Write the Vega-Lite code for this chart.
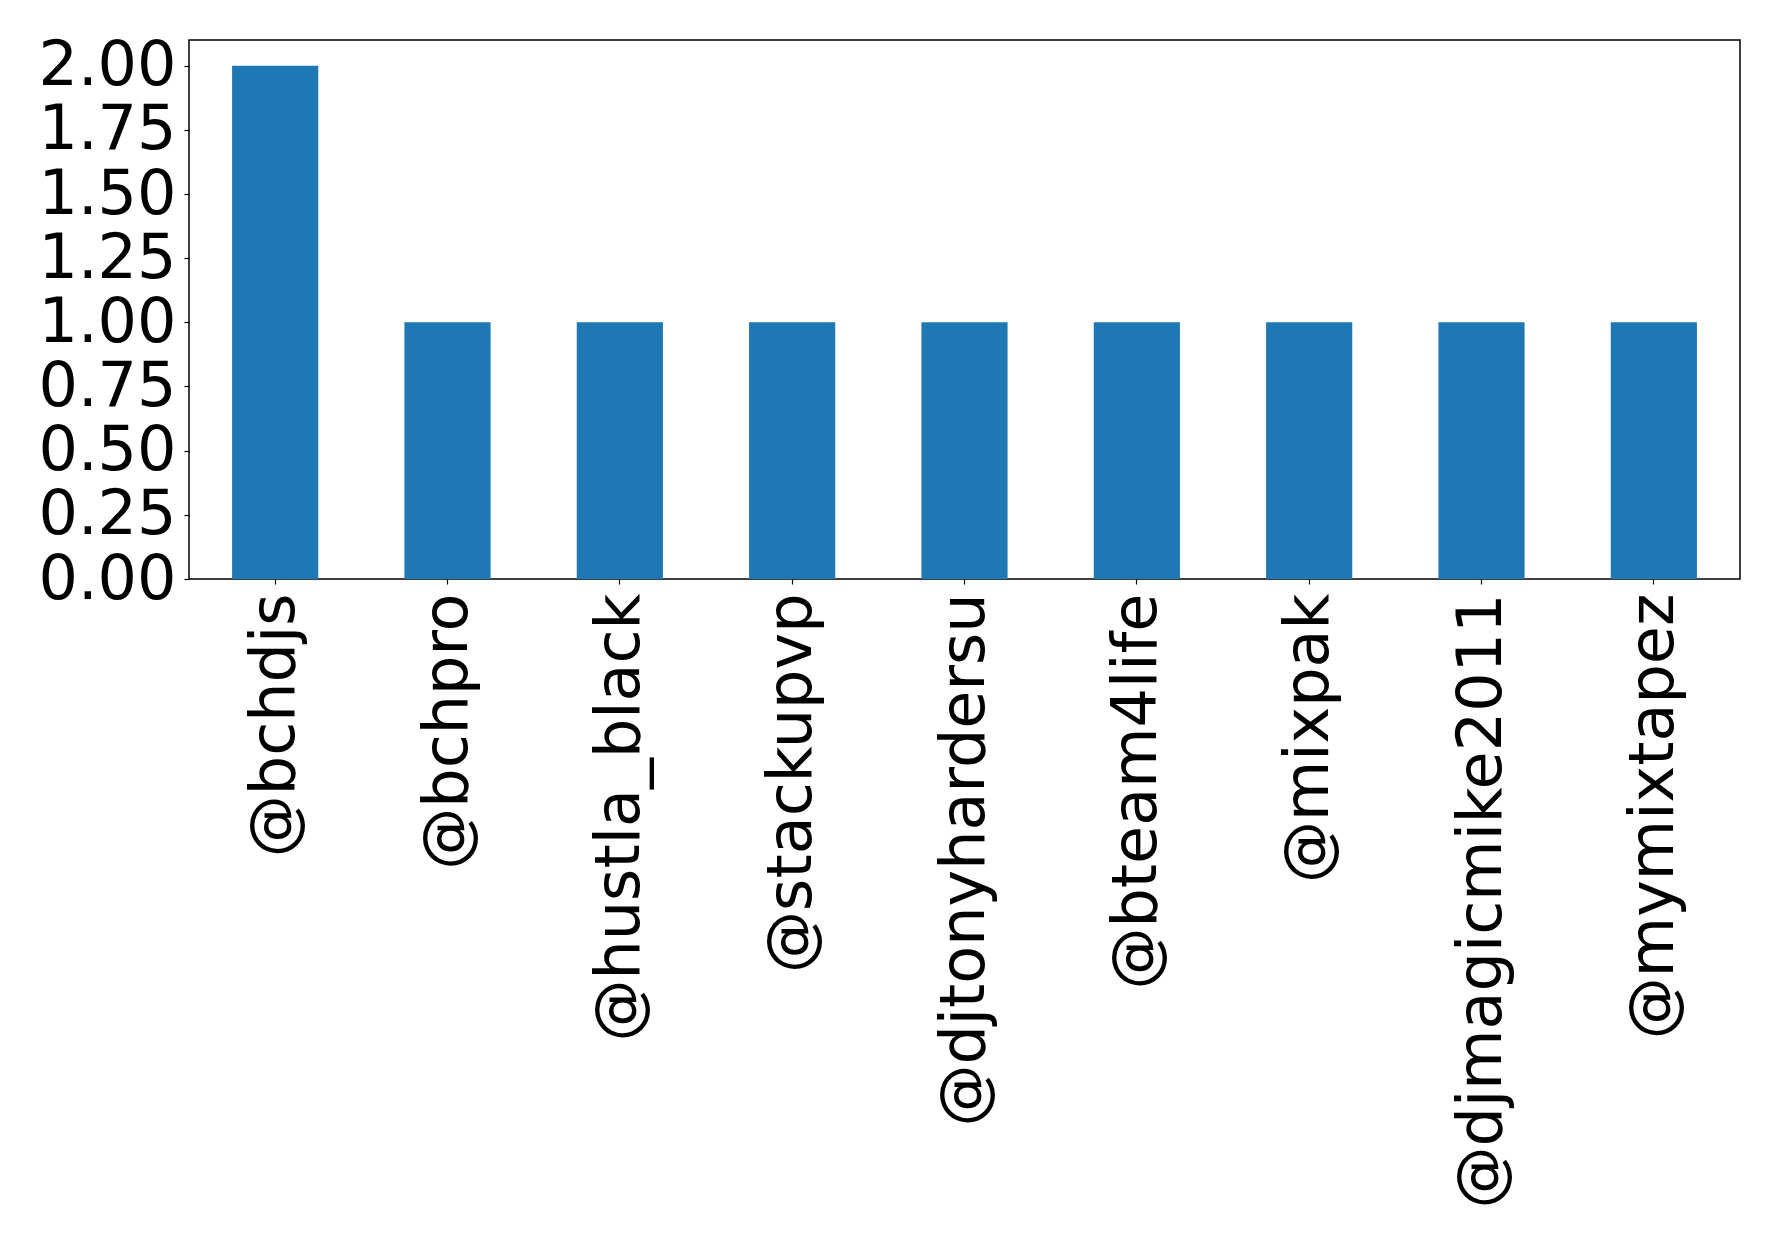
{
  "$schema": "https://vega.github.io/schema/vega-lite/v6.json",
  "width": 1551,
  "height": 539,
  "autosize": "none",
  "padding": {"left": 189, "top": 40, "right": 38, "bottom": 669},
  "background": "white",
  "data": {
    "values": [
      {"user": "@bchdjs", "count": 2},
      {"user": "@bchpro", "count": 1},
      {"user": "@hustla_black", "count": 1},
      {"user": "@stackupvp", "count": 1},
      {"user": "@djtonyhardersu", "count": 1},
      {"user": "@bteam4life", "count": 1},
      {"user": "@mixpak", "count": 1},
      {"user": "@djmagicmike2011", "count": 1},
      {"user": "@mymixtapez", "count": 1}
    ]
  },
  "config": {
    "view": {"stroke": "black", "strokeWidth": 1.5},
    "font": "DejaVu Sans",
    "axis": {
      "grid": false,
      "domain": false,
      "tickColor": "black",
      "tickSize": 5,
      "tickWidth": 1.2,
      "labelColor": "black",
      "labelFont": "DejaVu Sans",
      "labelFontSize": 62,
      "title": null
    }
  },
  "mark": {"type": "bar", "color": "#1f77b4"},
  "encoding": {
    "x": {
      "field": "user",
      "type": "nominal",
      "sort": null,
      "scale": {"paddingInner": 0.5, "paddingOuter": 0.25},
      "axis": {"labelAngle": 270, "labelPadding": 9, "labelLimit": 0}
    },
    "y": {
      "field": "count",
      "type": "quantitative",
      "scale": {"domain": [0, 2.1], "nice": false},
      "axis": {
        "values": [0, 0.25, 0.5, 0.75, 1, 1.25, 1.5, 1.75, 2],
        "format": ".2f",
        "labelPadding": 8
      }
    }
  }
}
